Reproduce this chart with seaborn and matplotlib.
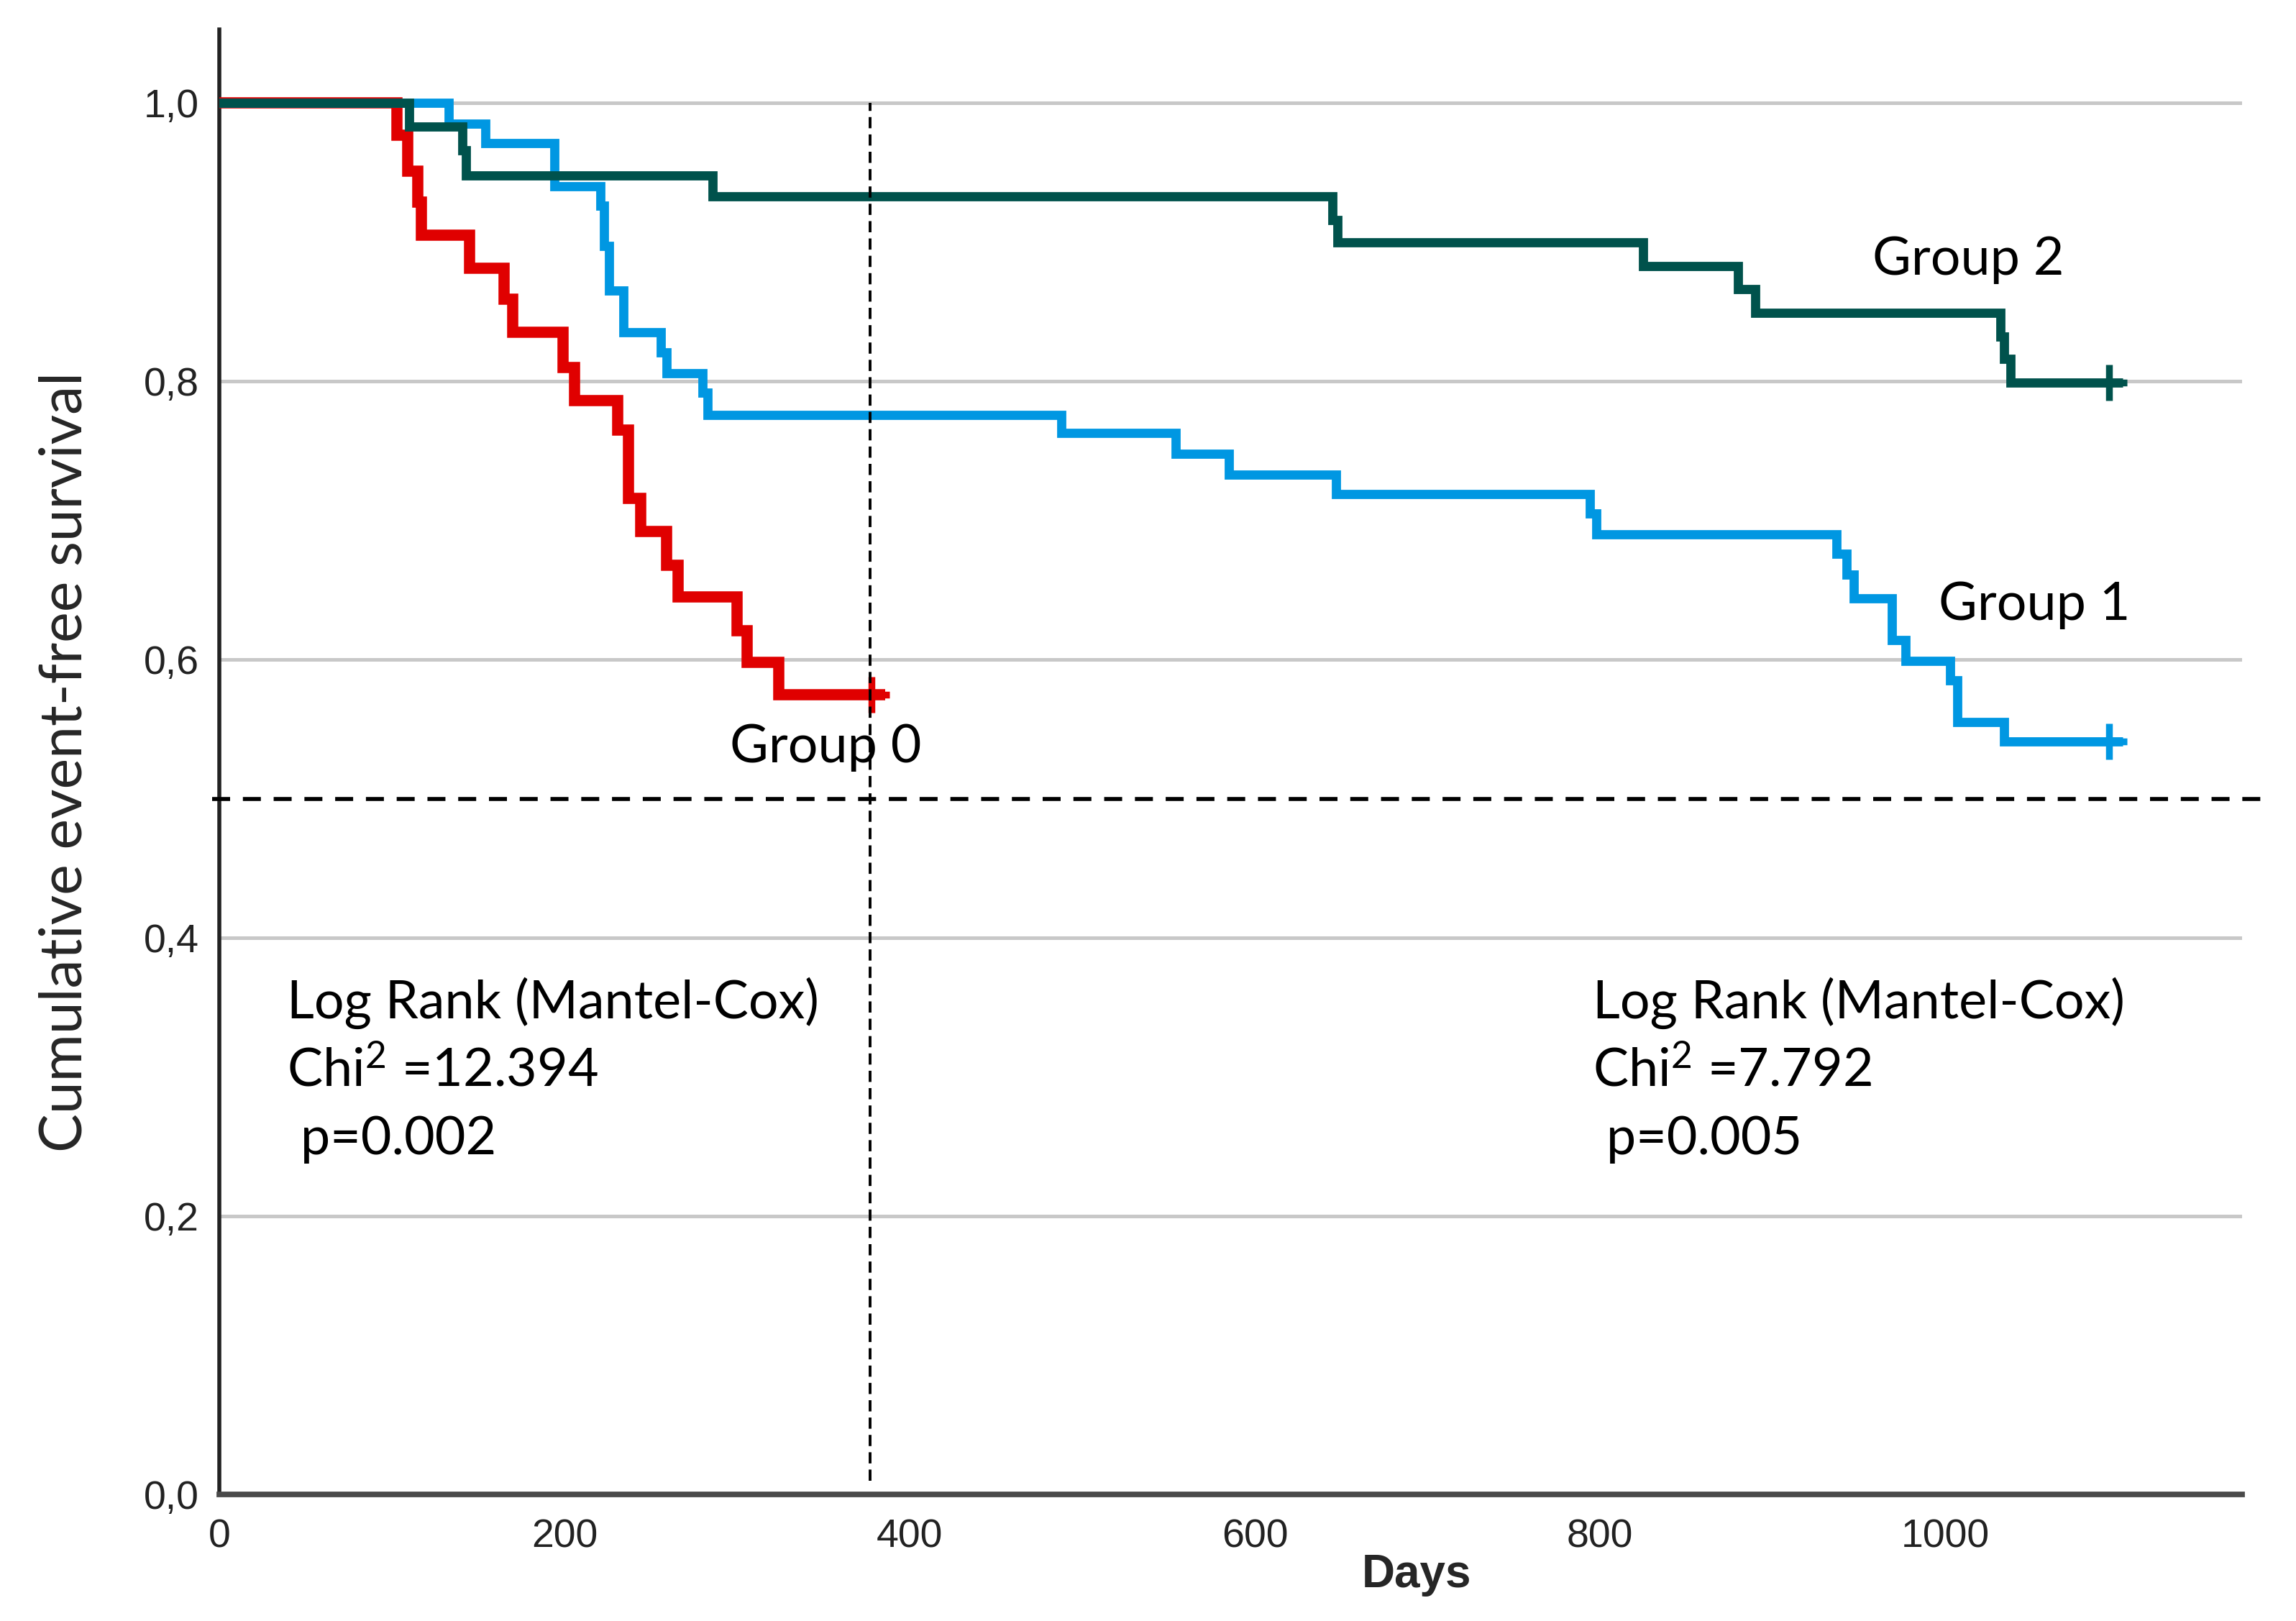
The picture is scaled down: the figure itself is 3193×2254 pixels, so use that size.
import numpy as np
import pandas as pd
import matplotlib
matplotlib.use("Agg")
import matplotlib.pyplot as plt
import seaborn as sns

# ---------------- data ----------------
group_names = ["Group 0", "Group 1", "Group 2"]

g0_days = [0, 103, 109, 115, 117, 145, 165, 170, 199, 206, 231, 237, 244, 259, 266, 300, 306, 324, 378]
g0_surv = [1.0, 0.977, 0.951, 0.929, 0.905, 0.881, 0.859, 0.835, 0.810, 0.786, 0.765, 0.716, 0.692,
           0.668, 0.645, 0.621, 0.598, 0.575, 0.575]

g1_days = [0, 133, 154, 194, 221, 223, 226, 234, 256, 259, 280, 283, 488, 554, 585, 647, 794, 798,
           937, 943, 947, 969, 977, 1003, 1007, 1034, 1095]
g1_surv = [1.0, 0.985, 0.971, 0.940, 0.926, 0.897, 0.865, 0.835, 0.821, 0.806, 0.792, 0.776, 0.763,
           0.748, 0.733, 0.719, 0.705, 0.690, 0.676, 0.661, 0.644, 0.614, 0.599, 0.585, 0.555, 0.541, 0.541]

g2_days = [0, 110, 141, 143, 286, 645, 648, 825, 880, 890, 1032, 1034, 1038, 1095]
g2_surv = [1.0, 0.983, 0.966, 0.948, 0.933, 0.916, 0.900, 0.883, 0.866, 0.849, 0.832, 0.816, 0.799, 0.799]

censor_days = [378, 1095, 1095]
censor_surv = [0.575, 0.541, 0.799]

y_ticks = [0.0, 0.2, 0.4, 0.6, 0.8, 1.0]
y_ticklabels = ["0,0", "0,2", "0,4", "0,6", "0,8", "1,0"]
x_ticks = [0, 200, 400, 600, 800, 1000]
x_ticklabels = ["0", "200", "400", "600", "800", "1000"]

cutoff_day = 377
median_level = 0.5

stats_left = ["Log Rank (Mantel-Cox)", "Chi$^{2}$ =12.394", " p=0.002"]
stats_right = ["Log Rank (Mantel-Cox)", "Chi$^{2}$ =7.792", " p=0.005"]

# ---------------- build table ----------------
frames = []
for name, d, s in zip(group_names, [g0_days, g1_days, g2_days], [g0_surv, g1_surv, g2_surv]):
    frames.append(pd.DataFrame({"Days": d, "Survival": s, "Group": name}))
df = pd.concat(frames, ignore_index=True)

palette = {"Group 0": "#E00000", "Group 1": "#0097E2", "Group 2": "#00524C"}
widths = {"Group 0": 5.6, "Group 1": 4.6, "Group 2": 4.6}

# ---------------- figure ----------------
sns.set_theme(style="white")
plt.rcParams["font.family"] = ["Lato", "DejaVu Sans"]
plt.rcParams["mathtext.fontset"] = "custom"
plt.rcParams["mathtext.rm"] = "Lato"
plt.rcParams["mathtext.it"] = "Lato"
plt.rcParams["mathtext.default"] = "regular"
narrow = ["Liberation Sans Narrow", "Liberation Sans", "DejaVu Sans"]

fig = plt.figure(figsize=(15.965, 11.27), dpi=200)
ax = fig.add_axes([0.0955, 0.078, 0.881, 0.904])

# grid
for yv in y_ticks[1:]:
    ax.axhline(yv, color="#C8C8C8", lw=1.8, zorder=0)

for name in group_names:
    sub = df[df["Group"] == name]
    sns.lineplot(data=sub, x="Days", y="Survival", ax=ax, color=palette[name],
                 lw=widths[name], drawstyle="steps-post", estimator=None, sort=False,
                 legend=False, zorder=3, solid_joinstyle="miter")

for name, cd, cs in zip(group_names, censor_days, censor_surv):
    ax.plot([cd], [cs], marker="+", ms=18, mew=3.4, color=palette[name], zorder=4)
    ax.plot([cd, cd + 8], [cs, cs], color=palette[name], lw=widths[name], zorder=3,
            solid_capstyle="butt")

# reference lines
ax.plot([cutoff_day, cutoff_day], [0.01, 1.0], color="black", lw=1.4,
        dashes=(4.0, 2.2), zorder=5)
ax.plot([-4, 1190], [median_level, median_level], color="black", lw=2.0,
        dashes=(4.5, 3.2), zorder=5, clip_on=False)

ax.set_xlim(0, 1172)
ax.set_ylim(0, 1.053)

ax.set_xticks(x_ticks)
ax.set_xticklabels(x_ticklabels, family=narrow, fontsize=20, color="#222222")
ax.set_yticks(y_ticks)
ax.set_yticklabels(y_ticklabels, family=narrow, fontsize=20, color="#222222")
ax.tick_params(axis="both", length=0)
ax.tick_params(axis="x", pad=12)
ax.tick_params(axis="y", pad=10)

for side in ["top", "right"]:
    ax.spines[side].set_visible(False)
ax.spines["left"].set_color("#222222")
ax.spines["left"].set_linewidth(2.0)
ax.spines["bottom"].set_color("#4A4A4A")
ax.spines["bottom"].set_linewidth(2.8)

ax.set_xlabel("Days", family=narrow, fontsize=23, fontweight="bold")
ax.xaxis.set_label_coords(0.592, -0.040)
ax.set_ylabel("Cumulative event-free survival", fontsize=29)
ax.yaxis.set_label_coords(-0.063, 0.50)

# group labels
txt = dict(fontsize=26.5, color="black", va="center", ha="left")
ax.text(958, 0.887, "Group 2", **txt)
ax.text(996, 0.639, "Group 1", **txt)
ax.text(296, 0.537, "Group 0", **txt)

for i, yv in enumerate([0.353, 0.304, 0.255]):
    ax.text(39, yv, stats_left[i], **txt)
    ax.text(796, yv, stats_right[i], **txt)

fig.savefig("out.png", dpi=200, facecolor="white")
